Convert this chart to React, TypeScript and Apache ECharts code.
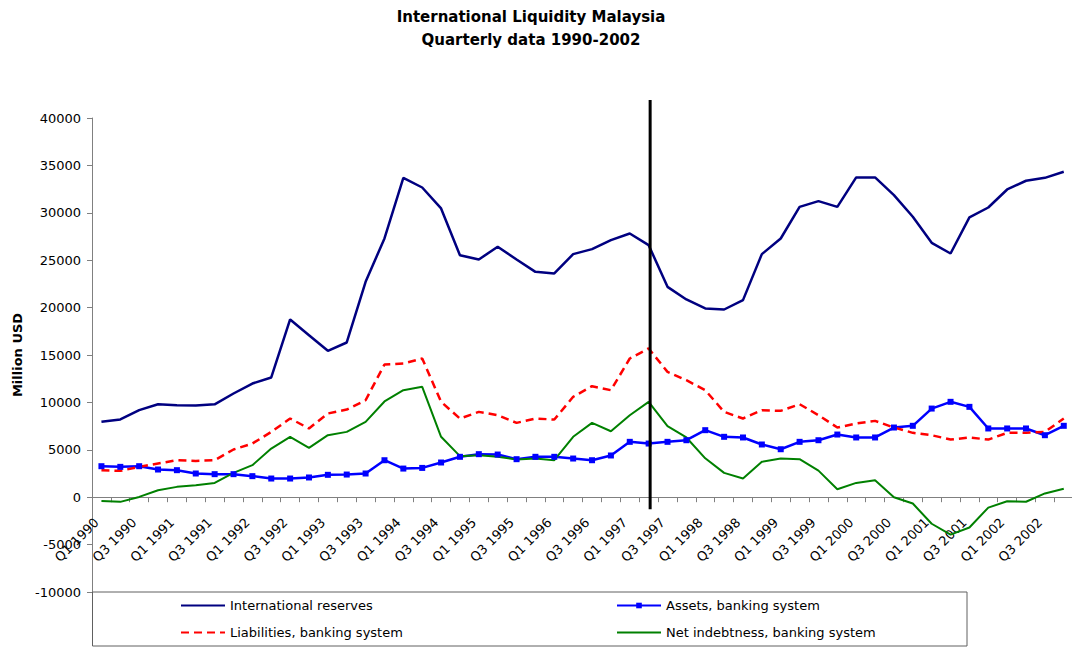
import React, { useEffect, useRef } from "react";
import * as echarts from "echarts";

const categories = [
  "Q1 1990", "Q2 1990", "Q3 1990", "Q4 1990",
  "Q1 1991", "Q2 1991", "Q3 1991", "Q4 1991",
  "Q1 1992", "Q2 1992", "Q3 1992", "Q4 1992",
  "Q1 1993", "Q2 1993", "Q3 1993", "Q4 1993",
  "Q1 1994", "Q2 1994", "Q3 1994", "Q4 1994",
  "Q1 1995", "Q2 1995", "Q3 1995", "Q4 1995",
  "Q1 1996", "Q2 1996", "Q3 1996", "Q4 1996",
  "Q1 1997", "Q2 1997", "Q3 1997", "Q4 1997",
  "Q1 1998", "Q2 1998", "Q3 1998", "Q4 1998",
  "Q1 1999", "Q2 1999", "Q3 1999", "Q4 1999",
  "Q1 2000", "Q2 2000", "Q3 2000", "Q4 2000",
  "Q1 2001", "Q2 2001", "Q3 2001", "Q4 2001",
  "Q1 2002", "Q2 2002", "Q3 2002", "Q4 2002",
];

const reserves = [
  7950, 8200, 9180, 9800, 9700, 9670, 9800, 10940, 11990, 12630, 18750, 17090,
  15440, 16320, 22720, 27300, 33690, 32670, 30460, 25530, 25080, 26410, 25080,
  23770, 23600, 25640, 26170, 27120, 27820, 26590, 22190, 20860, 19910, 19800,
  20790, 25640, 27290, 30630, 31230, 30630, 33730, 33730, 31860, 29580, 26830,
  25710, 29510, 30560, 32460, 33380, 33690, 34330,
];

const assets = [
  3270, 3200, 3270, 2920, 2850, 2500, 2430, 2430, 2220, 1970, 1970, 2080, 2360,
  2390, 2500, 3900, 3020, 3090, 3660, 4260, 4540, 4500, 4010, 4260, 4260, 4080,
  3900, 4400, 5840, 5660, 5840, 6010, 7070, 6370, 6300, 5560, 5060, 5840, 6010,
  6610, 6300, 6300, 7350, 7530, 9350, 10060, 9530, 7250, 7250, 7250, 6540, 7530,
];

const liabilities = [
  2850, 2780, 3200, 3550, 3900, 3830, 3900, 5030, 5660, 6890, 8300, 7250, 8830,
  9250, 10230, 14000, 14100, 14630, 10060, 8300, 9000, 8650, 7840, 8300, 8190,
  10590, 11710, 11290, 14630, 15690, 13220, 12340, 11290, 9000, 8300, 9180, 9110,
  9810, 8650, 7350, 7770, 8050, 7350, 6790, 6540, 6080, 6300, 6080, 6790, 6790,
  6890, 8300,
];

const netIndebtness = [
  -390, -490, 30, 740, 1090, 1270, 1510, 2570, 3380, 5130, 6370, 5210, 6540,
  6890, 7950, 10100, 11290, 11640, 6370, 4330, 4430, 4260, 3970, 4080, 3900,
  6370, 7840, 6960, 8650, 10060, 7500, 6300, 4100, 2570, 1970, 3730, 4080, 4010,
  2800, 840, 1510, 1790, 0, -670, -2800, -3950, -3200, -1100, -420, -480, 400, 900,
];

const seriesNames = [
  "International reserves",
  "Assets, banking system",
  "Liabilities, banking system",
  "Net indebtness, banking system",
];

const yMin = -10000;
const yMax = 40000;
const yStep = 5000;

// vertical marker line (Asian crisis)
const crisisIndex = 29;
const crisisTop = 41900;
const crisisBottom = -1270;

const FONT = "DejaVu Sans";

const GRID_TOP = 118;
const GRID_BOTTOM = 56;
const CHART_H = 648;

export default function App() {
  const ref = useRef<HTMLDivElement>(null);

  useEffect(() => {
    if (!ref.current) return;
    const chart = echarts.init(ref.current, null, { renderer: "svg" });

    // x axis sits on the zero line of the value axis
    const plotH = CHART_H - GRID_TOP - GRID_BOTTOM;
    const zeroFromBottom = (plotH * (0 - yMin)) / (yMax - yMin);

    const baseGraphics: any[] = [
      {
        id: "title1",
        type: "text",
        x: 531,
        y: 17,
        style: {
          text: "International Liquidity Malaysia",
          font: `bold 15px "${FONT}"`,
          fill: "#000",
          align: "center",
          verticalAlign: "middle",
        },
      },
      {
        id: "title2",
        type: "text",
        x: 531,
        y: 40,
        style: {
          text: "Quarterly data 1990-2002",
          font: `bold 15px "${FONT}"`,
          fill: "#000",
          align: "center",
          verticalAlign: "middle",
        },
      },
      {
        id: "legendBox",
        type: "rect",
        shape: { x: 92.5, y: 592, width: 874.5, height: 54 },
        style: { fill: "none", stroke: "#606060", lineWidth: 1 },
        z: 1,
      },
    ];

    const legendBase = {
      orient: "horizontal",
      padding: 0,
      itemWidth: 44,
      itemHeight: 14,
      selectedMode: false,
      textStyle: { fontFamily: FONT, fontSize: 13, color: "#000" },
    };

    const option: any = {
      animation: false,
      backgroundColor: "#ffffff",
      grid: {
        left: 92,
        top: GRID_TOP,
        bottom: GRID_BOTTOM,
        width: 981.2,
        containLabel: false,
        outerBoundsMode: "none",
      },
      legend: [
        { ...legendBase, data: [seriesNames[0]], left: 180, top: 599, itemStyle: { opacity: 0 } },
        { ...legendBase, data: [seriesNames[1]], left: 616, top: 599, itemHeight: 7 },
        { ...legendBase, data: [seriesNames[2]], left: 180, top: 626, itemStyle: { opacity: 0 } },
        { ...legendBase, data: [seriesNames[3]], left: 616, top: 626, itemStyle: { opacity: 0 } },
      ],
      xAxis: {
        type: "category",
        data: categories,
        boundaryGap: true,
        offset: -zeroFromBottom,
        axisLine: {
          show: true,
          onZero: false,
          lineStyle: { color: "#808080", width: 1 },
        },
        axisTick: {
          show: true,
          interval: 0,
          length: 5,
          lineStyle: { color: "#808080" },
        },
        axisLabel: {
          interval: 1,
          rotate: 45,
          margin: 18,
          padding: [0, 7, 0, 0],
          fontFamily: FONT,
          fontSize: 13,
          color: "#000",
        },
        splitLine: { show: false },
      },
      yAxis: {
        type: "value",
        min: yMin,
        max: yMax,
        interval: yStep,
        name: "Million USD",
        nameLocation: "middle",
        nameGap: 68,
        nameTextStyle: {
          fontFamily: FONT,
          fontSize: 13,
          fontWeight: "bold",
          color: "#000",
        },
        axisLine: { show: true, lineStyle: { color: "#808080", width: 1 } },
        axisTick: { show: true, length: 5, lineStyle: { color: "#808080" } },
        axisLabel: {
          margin: 11,
          fontFamily: FONT,
          fontSize: 13,
          color: "#000",
          formatter: (v: number) => String(v),
        },
        splitLine: { show: false },
      },
      series: [
        {
          name: seriesNames[0],
          type: "line",
          data: reserves,
          symbol: "none",
          lineStyle: { color: "#000080", width: 2.5 },
          itemStyle: { color: "#000080" },
        },
        {
          name: seriesNames[1],
          type: "line",
          data: assets,
          symbol: "rect",
          symbolSize: 6,
          showSymbol: true,
          lineStyle: { color: "#0000FF", width: 2.5 },
          itemStyle: { color: "#0000FF" },
        },
        {
          name: seriesNames[2],
          type: "line",
          data: liabilities,
          symbol: "none",
          lineStyle: { color: "#FF0000", width: 2.5, type: [8, 5] },
          itemStyle: { color: "#FF0000" },
        },
        {
          name: seriesNames[3],
          type: "line",
          data: netIndebtness,
          symbol: "none",
          lineStyle: { color: "#008000", width: 2 },
          itemStyle: { color: "#008000" },
        },
      ],
      graphic: { elements: baseGraphics },
    };

    chart.setOption(option);

    const p1 = chart.convertToPixel({ xAxisIndex: 0, yAxisIndex: 0 }, [
      crisisIndex,
      crisisTop,
    ]) as number[];
    const p2 = chart.convertToPixel({ xAxisIndex: 0, yAxisIndex: 0 }, [
      crisisIndex,
      crisisBottom,
    ]) as number[];

    if (p1 && p2) {
      chart.setOption({
        graphic: {
          elements: [
            ...baseGraphics,
            {
              id: "crisisLine",
              type: "line",
              shape: { x1: p1[0] + 1.5, y1: p1[1], x2: p2[0] + 1.5, y2: p2[1] },
              style: { stroke: "#000", lineWidth: 3 },
              z: 10,
            },
          ],
        },
      });
    }

    return () => {
      chart.dispose();
    };
  }, []);

  return (
    <div
      ref={ref}
      style={{
        position: "absolute",
        left: 0,
        top: 0,
        width: 1072,
        height: CHART_H,
        background: "#fff",
      }}
    />
  );
}
